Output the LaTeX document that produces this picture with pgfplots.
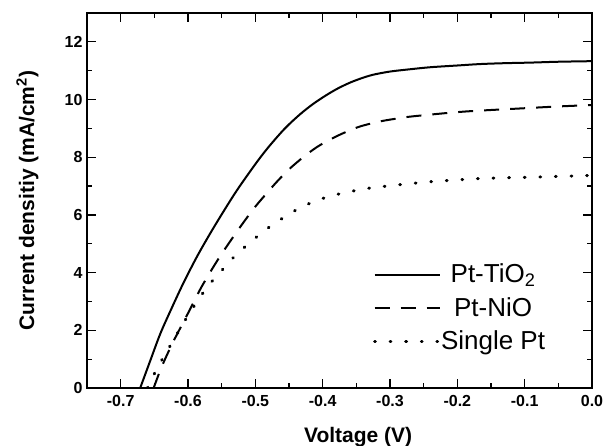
\documentclass[border=0pt]{standalone}
\usepackage{fontspec}
\setmainfont{Liberation Sans}
\usepackage{pgfplots}
\pgfplotsset{compat=1.18}
\usepackage{pgfplotstable}

\pgfplotstableread{
V J
-0.671 0
-0.656 0.95
-0.641 1.89
-0.624 2.78
-0.607 3.63
-0.587 4.54
-0.567 5.36
-0.547 6.13
-0.528 6.83
-0.508 7.50
-0.493 7.98
-0.478 8.42
-0.456 9.00
-0.434 9.48
-0.414 9.85
-0.394 10.16
-0.377 10.39
-0.359 10.59
-0.342 10.74
-0.325 10.86
-0.300 10.97
-0.270 11.05
-0.240 11.12
-0.200 11.18
-0.166 11.23
-0.130 11.26
-0.092 11.28
-0.050 11.31
0.000 11.33
}\tio

\pgfplotstableread{
V J
-0.651 0
-0.639 0.74
-0.622 1.60
-0.600 2.59
-0.580 3.50
-0.555 4.47
-0.528 5.40
-0.503 6.20
-0.485 6.70
-0.468 7.15
-0.450 7.58
-0.429 8.00
-0.408 8.36
-0.386 8.65
-0.365 8.88
-0.344 9.07
-0.315 9.24
-0.290 9.34
-0.265 9.42
-0.191 9.58
-0.107 9.69
-0.050 9.76
0.000 9.81
}\nio

\pgfplotstableread{
V J
-0.660 0
-0.656 0.22
-0.643 0.80
-0.623 1.60
-0.604 2.36
-0.587 2.98
-0.570 3.54
-0.547 4.15
-0.528 4.63
-0.503 5.14
-0.481 5.55
-0.456 5.94
-0.434 6.24
-0.409 6.50
-0.384 6.68
-0.359 6.81
-0.330 6.93
-0.285 7.05
-0.240 7.15
-0.166 7.26
-0.072 7.32
0.000 7.37
}\single

\begin{document}
\begin{tikzpicture}
\path[use as bounding box] (-87pt,-58pt) rectangle (524pt,388pt);
\begin{axis}[
  at={(0pt,0pt)}, anchor=south west,
  scale only axis,
  width=505pt, height=375pt,
  xmin=-0.75, xmax=0, ymin=0, ymax=13,
  xtick={-0.7,-0.6,-0.5,-0.4,-0.3,-0.2,-0.1,0},
  ytick={0,2,4,6,8,10,12},
  minor x tick num=1, minor y tick num=1,
  tick align=inside,
  major tick length=9pt, minor tick length=5pt,
  axis line style={line width=1.3pt},
  every tick/.style={line width=1.2pt, black},
  /pgf/number format/assume math mode=true,
  ticklabel style={font=\fontsize{16}{19}\selectfont\bfseries},
  xticklabel style={yshift=-4pt, /pgf/number format/.cd, fixed, fixed zerofill, precision=1},
  yticklabel style={xshift=-1pt, /pgf/number format/.cd, fixed, precision=0},
  xlabel={Voltage (V)},
  ylabel={Current densitiy (mA/cm\textsuperscript{2})},
  label style={font=\fontsize{21}{25}\selectfont\bfseries},
  xlabel style={at={(axis description cs:0.537,-0.13)}, anchor=center},
  ylabel style={at={(axis description cs:-0.118,0.5)}, anchor=center},
  legend cell align=left,
  legend style={draw=none, fill=none, at={(axis description cs:0.566,0.326)}, anchor=north west,
    inner sep=0pt, row sep=0pt,
    font=\fontsize{26}{31}\selectfont,
    nodes={inner xsep=0pt, inner ysep=0pt, text height=16.8pt, text depth=16.8pt, anchor=base},
    /tikz/every even column/.append style={column sep=5pt}},
  legend image code/.code={\draw[#1] (0pt,8pt) -- (65pt,8pt);},
]
\addplot[black, line width=2pt, smooth] table[x=V,y=J] {\tio};
\addlegendentry{Pt-TiO\textsubscript{2}}
\addplot[black, line width=2pt, smooth, dash pattern=on 15pt off 11pt] table[x=V,y=J] {\nio};
\addlegendentry{Pt-NiO}
\addplot[black, line width=3pt, smooth, line cap=round, dash pattern=on 0.8pt off 14.8pt] table[x=V,y=J] {\single};
\addlegendentry{Single Pt}
\end{axis}
\end{tikzpicture}
\end{document}
